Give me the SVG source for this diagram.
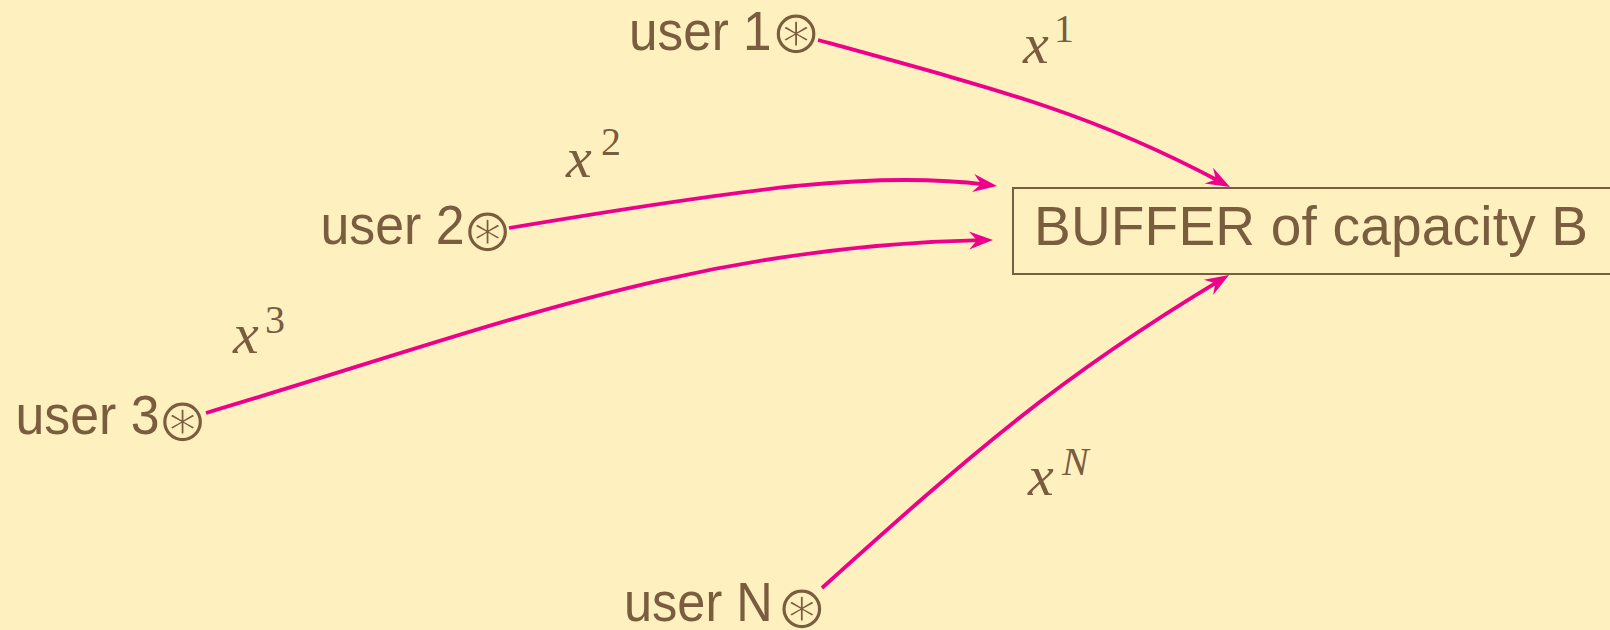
<svg xmlns="http://www.w3.org/2000/svg" width="1610" height="630" viewBox="0 0 1610 630">
<style>
.lbl{font-family:"Liberation Sans",Arial,sans-serif;font-size:55px;fill:#7a5c3f}
.sym{font-family:"DejaVu Sans",sans-serif;font-size:61px;fill:#7a5c3f;text-anchor:middle;stroke:#fff1bf;stroke-width:1.2;paint-order:fill stroke}
.math{font-family:"Liberation Serif","Times New Roman",serif;font-style:italic;font-size:58px;fill:#7a5c3f}
.sup{font-style:normal;font-size:40px}
.supi{font-style:italic;font-size:40px}
.edge{fill:none;stroke:#ec008c;stroke-width:3.8;marker-end:url(#arr)}
</style>
<defs>
<marker id="arr" markerUnits="userSpaceOnUse" orient="auto" refX="0" refY="0" markerWidth="30" markerHeight="20" overflow="visible">
<path d="M11,0 L-13,-9 L-5,0 L-13,9 Z" fill="#ec008c"/>
</marker>
</defs>
<rect width="1610" height="630" fill="#fff1bf"/>
<g id="buffer">
<rect x="1013" y="188" width="620" height="86" fill="none" stroke="#7a5c3f" stroke-width="2"/>
<text class="lbl" x="1034" y="244.5" textLength="554">BUFFER of capacity B</text>
</g>
<g id="user1">
<text class="lbl" x="629" y="49.5" textLength="142.5" lengthAdjust="spacingAndGlyphs">user 1</text>
<text class="sym" x="796" y="53">⊛</text>
</g>
<g id="user2">
<text class="lbl" x="320.5" y="244" textLength="144" lengthAdjust="spacingAndGlyphs">user 2</text>
<text class="sym" x="487.5" y="250.5">⊛</text>
</g>
<g id="user3">
<text class="lbl" x="15.5" y="433.5" textLength="144" lengthAdjust="spacingAndGlyphs">user 3</text>
<text class="sym" x="182.5" y="440.5">⊛</text>
</g>
<g id="userN">
<text class="lbl" x="624" y="620.5" textLength="148.7" lengthAdjust="spacingAndGlyphs">user N</text>
<text class="sym" x="801.7" y="627.5">⊛</text>
</g>
<g id="connectors">
<path class="edge" d="M818,40 C1011,93 1097,116 1220.3,181.8"/>
<path class="edge" d="M509,228 C755.5,186.7 877,171 986.1,184.6"/>
<path class="edge" d="M206,413 C493.5,327.3 693,246 982,240.2"/>
<path class="edge" d="M822,588 C970.6,454.2 1057.6,378 1219.6,280.7"/>
</g>
<g id="labels">
<text class="math" x="1023" y="63.3">x<tspan class="sup" x="1054" y="41.7">1</tspan></text>
<text class="math" x="566" y="176.7">x<tspan class="sup" x="601" y="155">2</tspan></text>
<text class="math" x="233" y="353.3">x<tspan class="sup" x="265" y="333">3</tspan></text>
<text class="math" x="1028" y="495">x<tspan class="supi" x="1062" y="475">N</tspan></text>
</g>
</svg>
